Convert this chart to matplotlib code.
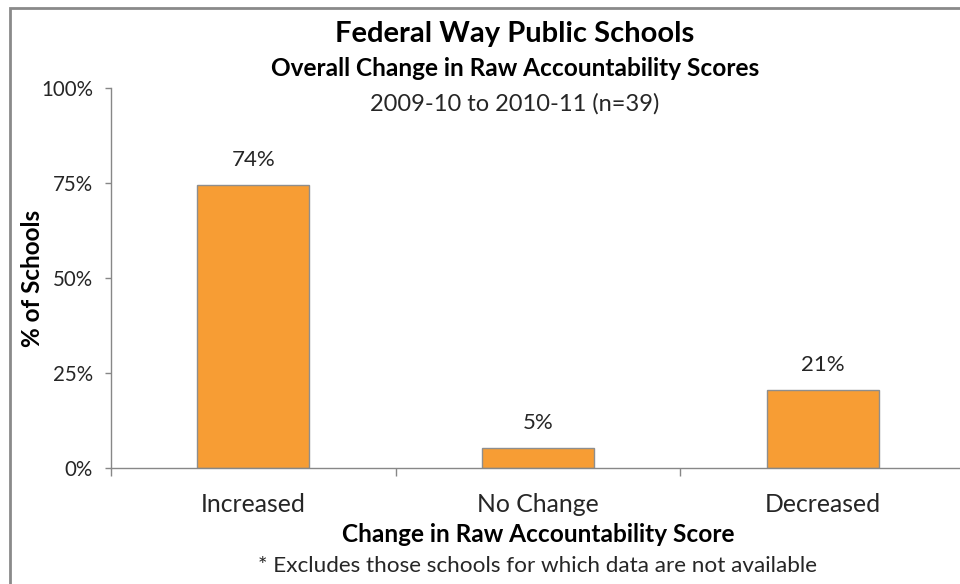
import matplotlib.pyplot as plt
from matplotlib.patches import Rectangle

# data (n=39 schools)
categories = ['Increased', 'No Change', 'Decreased']
pct_values = [74.4, 5.1, 20.5]
bar_labels = ['74%', '5%', '21%']
y_ticks = [0, 25, 50, 75, 100]
y_tick_labels = ['0%', '25%', '50%', '75%', '100%']

plt.rcParams['font.family'] = ['Lato', 'DejaVu Sans']
text_col = '#262626'
axis_col = '#878787'

W, H = 960, 584
fig = plt.figure(figsize=(W / 100, H / 100), dpi=100)

# chart border (right/bottom run off the picture)
fig.patches.append(Rectangle((10 / W, -0.1), 1.2, 1 - 8 / H + 0.1, transform=fig.transFigure,
                             fill=False, edgecolor='#8a8a8a', linewidth=2))

ax = fig.add_axes([111 / W, 116.3 / H, (965 - 111) / W, 379.4 / H])
x = range(len(categories))
bars = ax.bar(x, pct_values, width=0.394, color='#F79D34', edgecolor='#8e8e8e', linewidth=1)

for b, lab in zip(bars, bar_labels):
    ax.annotate(lab, (b.get_x() + b.get_width() / 2, b.get_height()), xytext=(0, 18),
                textcoords='offset points', ha='center', va='center', fontsize=16, color=text_col)

ax.set_xlim(-0.5, 2.5)
ax.set_ylim(0, 100)
ax.set_yticks(y_ticks)
ax.set_yticklabels(y_tick_labels)
ax.set_xticks(list(x))
ax.set_xticklabels(categories)
ax.set_xticks([-0.5, 0.5, 1.5, 2.5], minor=True)
ax.tick_params(axis='x', which='major', length=0, pad=18, labelsize=17.8, labelcolor=text_col)
ax.tick_params(axis='x', which='minor', length=6, color=axis_col, width=1)
ax.tick_params(axis='y', length=4, color=axis_col, width=1, pad=9, labelsize=14.8, labelcolor=text_col)

for s in ['top', 'right']:
    ax.spines[s].set_visible(False)
for s in ['left', 'bottom']:
    ax.spines[s].set_color(axis_col)
    ax.spines[s].set_linewidth(1)

# titles
fig.text(515 / W, 1 - 34 / H, 'Federal Way Public Schools', ha='center', va='center',
         fontsize=21, fontweight='bold', color='black')
fig.text(515 / W, 1 - 69 / H, 'Overall Change in Raw Accountability Scores', ha='center', va='center',
         fontsize=17.6, fontweight='bold', color='black')
fig.text(515 / W, 1 - 104 / H, '2009-10 to 2010-11 (n=39)', ha='center', va='center',
         fontsize=17, color=text_col)

fig.text(32 / W, 1 - 278 / H, '% of Schools', ha='center', va='center', rotation=90,
         fontsize=17.5, fontweight='bold', color='black')
fig.text(538 / W, 1 - 535 / H, 'Change in Raw Accountability Score', ha='center', va='center',
         fontsize=17.6, fontweight='bold', color='black')
fig.text(538 / W, 1 - 566 / H, '* Excludes those schools for which data are not available',
         ha='center', va='center', fontsize=16.2, color=text_col)

fig.savefig('out.png', dpi=100)
